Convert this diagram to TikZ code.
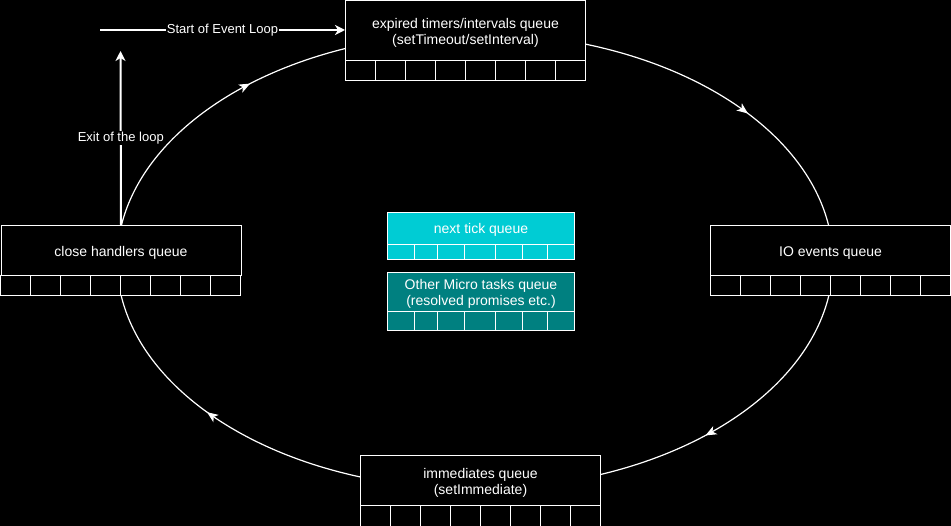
\documentclass[tikz,border=0pt]{standalone}
\usepackage{fontspec}
\setmainfont{Liberation Sans}
\usetikzlibrary{arrows.meta,decorations.markings,calc}
\definecolor{tickc}{HTML}{00CCD4}
\definecolor{microc}{HTML}{008080}
\newcommand\qcells[5]{% node, width, height, divider offsets, fill
  \draw[cellline,fill=#5] (#1.south west) rectangle ++(#2,-#3);
  \foreach \d in {#4} \draw[cellline] ($(#1.south west)+(\d,0)$) -- ++(0,-#3);
}
\begin{document}
\begin{tikzpicture}[x=1pt,y=1pt,
  qbox/.style={draw=white,line width=1pt,fill=black,minimum width=240pt,
    inner sep=0pt,anchor=north west},
  qtext/.style={text=white,inner sep=0pt,align=center,font=\fontsize{14}{16}\selectfont},
  cellline/.style={draw=white,line width=1pt},
  loopedge/.style={draw=white,line width=1.2pt},
  midarrow/.style={postaction={decorate,decoration={markings,
    mark=at position #1 with {\arrow[white]{Stealth[length=11pt,width=9pt,inset=3pt]}}}}},
  bigarrow/.style={draw=white,line width=2pt,-{Stealth[length=10pt,width=10pt,inset=3pt]}},
  elabel/.style={fill=black,text=white,inner sep=0.5pt,font=\fontsize{13}{15}\selectfont}
]
\fill[black,use as bounding box] (0,0) rectangle (951,-526);

% ellipse arcs (drawn first, boxes on top)
\coordinate (C) at (475,-261);
\coordinate (e1) at ($(C)+({358*cos(170.9)},{228*sin(170.9)})$);
\coordinate (e2) at ($(C)+({358*cos(72.1)},{228*sin(72.1)})$);
\coordinate (e3) at ($(C)+({358*cos(-8.6)},{228*sin(-8.6)})$);
\coordinate (e4) at ($(C)+({358*cos(251.3)},{228*sin(251.3)})$);
\draw[loopedge,midarrow=0.66] (e1) arc[start angle=170.9,end angle=111.3,x radius=358,y radius=228];
\draw[loopedge,midarrow=0.56] (e2) arc[start angle=72.1,end angle=9.1,x radius=358,y radius=228];
\draw[loopedge,midarrow=0.63] (e3) arc[start angle=-8.6,end angle=-69.6,x radius=358,y radius=228];
\draw[loopedge,midarrow=0.53] (e4) arc[start angle=251.3,end angle=188.6,x radius=358,y radius=228];

% queues
\node[qbox,minimum height=59.5pt] (timers) at (345,-0.5) {};
\node[qtext] (timerst) at ($(timers.center)+(0,-2.5)$) {expired timers/intervals queue\\(setTimeout/setInterval)};
\qcells{timers}{240}{20}{30,60,90,120,150,180,210}{black}

\node[qbox,minimum height=50pt] (closeh) at (0.5,-225) {};
\node[qtext] (closeht) at ($(closeh.center)+(0,-2.5)$) {close handlers queue};
\qcells{closeh}{240}{20}{30,60,90,120,150,180,210}{black}

\node[qbox,minimum height=50pt] (io) at (710,-225) {};
\node[qtext] (iot) at ($(io.center)+(0,-2.5)$) {IO events queue};
\qcells{io}{240}{20}{30,60,90,120,150,180,210}{black}

\node[qbox,minimum height=50pt] (immed) at (360,-455) {};
\node[qtext] (immedt) at ($(immed.center)+(0,-2.5)$) {immediates queue\\(setImmediate)};
\qcells{immed}{240}{20}{30,60,90,120,150,180,210}{black}

\node[qbox,minimum width=187pt,minimum height=32pt,fill=tickc] (tick) at (387,-212) {};
\node[qtext] (tickt) at ($(tick.center)+(0,-1)$) {next tick queue};
\qcells{tick}{187}{15}{27,50,77,108,135,160}{tickc}

\node[qbox,minimum width=187pt,minimum height=39pt,fill=microc] (micro) at (387,-272) {};
\node[qtext,font=\fontsize{14}{15.5}\selectfont] (microt) at ($(micro.center)+(0,-2)$) {Other Micro tasks queue\\(resolved promises etc.)};
\qcells{micro}{187}{19}{27,50,77,108,135,160}{microc}

% start / exit
\coordinate (start) at (100,-30);
\coordinate (exitend) at (120.5,-51);
\draw[bigarrow] (start) -- (timers.west |- start) node[elabel,pos=0.5] {Start of Event Loop};
\draw[bigarrow] (closeh.north) -- (exitend) node[elabel,pos=0.5] {Exit of the loop};
\end{tikzpicture}
\end{document}
